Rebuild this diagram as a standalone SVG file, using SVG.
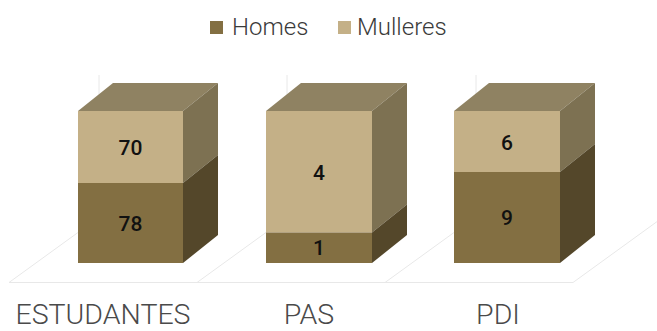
<svg xmlns="http://www.w3.org/2000/svg" width="657" height="331" viewBox="0 0 657 331">
<style>
.grid{stroke:#e8e8e8;stroke-width:1;fill:none}
.hf{fill:#836f42}.hs{fill:#54472a}
.mf{fill:#c4b087}.ms{fill:#7d7152}
.top{fill:#8f8262}
.num{font-family:Roboto,"Liberation Sans",sans-serif;font-weight:500;font-size:21px;fill:#111111;text-anchor:middle}
.cat{font-family:Roboto,"Liberation Sans",sans-serif;font-weight:300;font-size:28.5px;fill:#4a4a4a;text-anchor:middle}
.leg{font-family:Roboto,"Liberation Sans",sans-serif;font-weight:300;font-size:24px;fill:#3a3a3a}
</style>
<rect width="657" height="331" fill="#ffffff"/>
<g id="grid">
<line class="grid" x1="9" y1="282.5" x2="573" y2="282.5"/>
<line class="grid" x1="9" y1="282.5" x2="98" y2="218"/>
<line class="grid" x1="197" y1="282.5" x2="286" y2="218"/>
<line class="grid" x1="385" y1="282.5" x2="474" y2="218"/>
<line class="grid" x1="573" y1="282.5" x2="662" y2="218"/>
<line class="grid" x1="99" y1="75" x2="99" y2="218"/>
<line class="grid" x1="287" y1="75" x2="287" y2="218"/>
<line class="grid" x1="476" y1="75" x2="476" y2="218"/>
</g>
<g id="legend">
<rect class="hf" x="210" y="21" width="13" height="13"/>
<text class="leg" x="232" y="35">Homes</text>
<rect class="mf" x="338" y="21" width="13" height="13"/>
<text class="leg" x="357" y="35">Mulleres</text>
</g>
<g id="bar-estudantes">
<polygon class="top" points="78,111 113,83 218,83 183,111"/>
<polygon class="ms" points="183,111 218,83 218,155 183,183"/>
<polygon class="hs" points="183,183 218,155 218,235 183,263"/>
<rect class="mf" x="78" y="111" width="105" height="72"/>
<rect class="hf" x="78" y="183" width="105" height="80"/>
<text class="num" x="130.5" y="155">70</text>
<text class="num" x="130.5" y="230.5">78</text>
<text class="cat" x="103" y="324">ESTUDANTES</text>
</g>
<g id="bar-pas">
<polygon class="top" points="266,111 301,83 407,83 372,111"/>
<polygon class="ms" points="372,111 407,83 407,204.5 372,232.5"/>
<polygon class="hs" points="372,232.5 407,204.5 407,235 372,263"/>
<rect class="mf" x="266" y="111" width="106" height="121.5"/>
<rect class="hf" x="266" y="232.5" width="106" height="30.5"/>
<text class="num" x="319" y="179.5">4</text>
<text class="num" x="319" y="255">1</text>
<text class="cat" x="309" y="324">PAS</text>
</g>
<g id="bar-pdi">
<polygon class="top" points="454,111 489,83 595,83 560,111"/>
<polygon class="ms" points="560,111 595,83 595,144 560,172"/>
<polygon class="hs" points="560,172 595,144 595,235 560,263"/>
<rect class="mf" x="454" y="111" width="106" height="61"/>
<rect class="hf" x="454" y="172" width="106" height="91"/>
<text class="num" x="507" y="149.5">6</text>
<text class="num" x="507" y="225">9</text>
<text class="cat" x="498" y="324">PDI</text>
</g>
</svg>
